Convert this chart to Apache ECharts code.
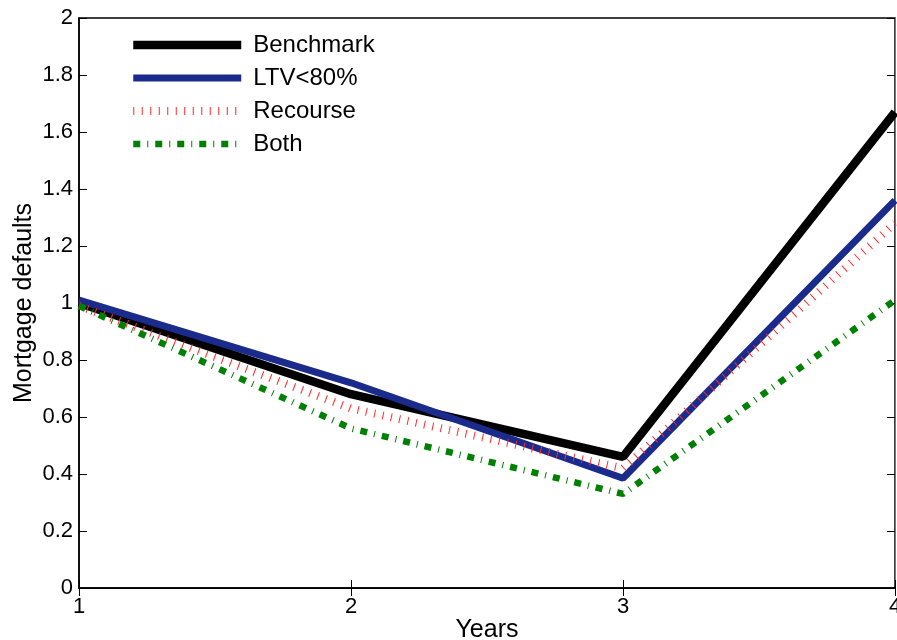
<!DOCTYPE html>
<html><head><meta charset="utf-8">
<script src="https://cdn.jsdelivr.net/npm/echarts@6/dist/echarts.min.js"></script>
<style>html,body{margin:0;padding:0;background:#fff}#c{width:897px;height:640px}</style>
</head><body><div id="c"></div>
<script>
const years = [1, 2, 3, 4];
const benchmark = [1.00, 0.68, 0.46, 1.67];
const ltv80 = [1.01, 0.72, 0.385, 1.36];
const recourse = [0.99, 0.63, 0.42, 1.28];
const both = [0.99, 0.56, 0.33, 1.01];
const seriesNames = ['Benchmark', 'LTV<80%', 'Recourse', 'Both'];

const pairs = arr => years.map((x, i) => [x, arr[i]]);
const font = 'Liberation Sans, Arial, sans-serif';
const styles = [
  {color: '#000000', width: 8.5, type: 'solid'},
  {color: '#1a2b8c', width: 7, type: 'solid'},
  {color: '#ff2a2a', width: 8, type: [1, 7.5]},
  {color: '#008000', width: 6.5, type: [7, 7, 1, 7]}
];
const chart = echarts.init(document.getElementById('c'));
const tickInside = {show: true, inside: true, length: 8, lineStyle: {color: '#000', width: 1}};
chart.setOption({
  animation: false,
  grid: {left: 79, right: 2, top: 18, bottom: 52, outerBoundsMode: 'none', containLabel: false,
         show: true, borderColor: '#000', borderWidth: 1.5},
  legend: {
    left: 129, top: 33, padding: 0, orient: 'vertical', itemGap: 9, itemWidth: 108, itemHeight: 24,
    itemStyle: {opacity: 0},
    textStyle: {fontFamily: font, fontSize: 24, color: '#000', padding: [0, 0, 0, 7]},
    data: seriesNames.map((n, i) => ({name: n, lineStyle: {width: styles[i].width, color: styles[i].color, type: styles[i].type, cap: 'butt'}}))
  },
  xAxis: [{
    type: 'value', min: 1, max: 4, interval: 1,
    name: 'Years', nameLocation: 'middle', nameGap: 30, nameMoveOverlap: false,
    nameTextStyle: {fontFamily: font, fontSize: 25, color: '#000'},
    axisLine: {show: true, lineStyle: {color: '#000', width: 1.5}},
    axisTick: tickInside, splitLine: {show: false},
    axisLabel: {fontFamily: font, fontSize: 22, color: '#000', margin: 8}
  }, {
    type: 'value', min: 1, max: 4, interval: 1, position: 'top',
    axisLine: {show: true, lineStyle: {color: '#000'}},
    axisTick: tickInside, axisLabel: {show: false}, splitLine: {show: false}
  }],
  yAxis: [{
    type: 'value', min: 0, max: 2, interval: 0.2,
    name: 'Mortgage defaults', nameLocation: 'middle', nameGap: 42, nameMoveOverlap: false,
    nameTextStyle: {fontFamily: font, fontSize: 25, color: '#000'},
    axisLine: {show: true, lineStyle: {color: '#000', width: 1.5}},
    axisTick: tickInside, splitLine: {show: false},
    axisLabel: {fontFamily: font, fontSize: 22, color: '#000', margin: 6}
  }, {
    type: 'value', min: 0, max: 2, interval: 0.2, position: 'right',
    axisLine: {show: true, lineStyle: {color: '#777'}},
    axisTick: tickInside, axisLabel: {show: false}, splitLine: {show: false}
  }],
  series: [benchmark, ltv80, recourse, both].map((arr, i) => ({
    name: seriesNames[i], type: 'line', data: pairs(arr), symbol: 'none', color: styles[i].color,
    lineStyle: {color: styles[i].color, width: styles[i].width, type: styles[i].type, cap: 'butt'}
  }))
});
</script></body></html>
